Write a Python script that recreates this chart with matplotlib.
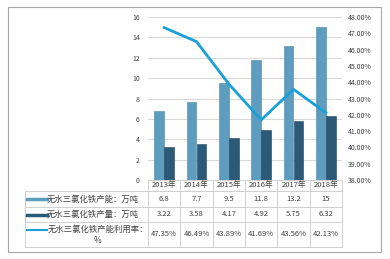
import matplotlib.pyplot as plt
import numpy as np

plt.rcParams['font.family'] = ['Noto Sans CJK SC', 'DejaVu Sans']

years = ['2013年', '2014年', '2015年', '2016年', '2017年', '2018年']
capacity = [6.8, 7.7, 9.5, 11.8, 13.2, 15]
output = [3.22, 3.58, 4.17, 4.92, 5.75, 6.32]
util_rate = [47.35, 46.49, 43.89, 41.69, 43.56, 42.13]

cap_labels = ['6.8', '7.7', '9.5', '11.8', '13.2', '15']
out_labels = ['3.22', '3.58', '4.17', '4.92', '5.75', '6.32']
rate_labels = ['47.35%', '46.49%', '43.89%', '41.69%', '43.56%', '42.13%']
row_names = ['无水三氯化铁产能：万吨', '无水三氯化铁产量：万吨', '无水三氯化铁产能利用率：\n%']

W, H = 390, 259
c_light = '#5f9dbf'
c_dark = '#2b5a78'
c_line = '#1aa0d8'
c_grid = '#d9d9d9'
c_text = '#404040'

fig = plt.figure(figsize=(W / 100, H / 100), dpi=100)


def fx(x):
    return x / W


def fy(y):
    return 1 - y / H


# outer frame
frame = plt.Rectangle((fx(8), fy(252)), fx(381 - 8), fy(7) - fy(252),
                      transform=fig.transFigure, fill=False, ec='#a6a6a6', lw=0.8)
fig.patches.append(frame)

x0, x1 = 148, 342
ax = fig.add_axes([fx(x0), fy(180), fx(x1 - x0), fy(17) - fy(180)])
x = np.arange(len(years))
bw = 0.3
ax.bar(x - bw / 2, capacity, bw, color=c_light, ec='#4a86a8', lw=0.4, zorder=2)
ax.bar(x + bw / 2, output, bw, color=c_dark, ec='#1f4660', lw=0.4, zorder=2)
ax.set_xlim(-0.5, len(years) - 0.5)
ax.set_ylim(0, 16)
ax.set_yticks(range(0, 17, 2))
ax.yaxis.grid(True, color=c_grid, lw=0.8, zorder=0)
ax.set_xticks([])
ax.tick_params(axis='y', length=0, labelsize=5, colors=c_text, pad=6)
for s in ax.spines.values():
    s.set_visible(False)

ax2 = ax.twinx()
ax2.plot(x, util_rate, color=c_line, lw=2, zorder=3)
ax2.set_ylim(38, 48)
ax2.set_yticks(range(38, 49))
ax2.set_yticklabels(['%.2f%%' % v for v in range(38, 49)])
ax2.tick_params(axis='y', length=0, labelsize=5, colors=c_text, pad=4)
for s in ax2.spines.values():
    s.set_visible(False)

# data table below the plot
col_w = (x1 - x0) / len(years)
rows_y = [180, 191, 207, 222, 247]
tline = dict(color='#d0d0d0', lw=0.7, transform=fig.transFigure)

for r in range(len(rows_y)):
    left = x0 if r == 0 else 25
    fig.add_artist(plt.Line2D([fx(left), fx(x1)], [fy(rows_y[r])] * 2, **tline))
for i in range(len(years) + 1):
    xx = x0 + i * col_w
    fig.add_artist(plt.Line2D([fx(xx)] * 2, [fy(180), fy(247)], **tline))
fig.add_artist(plt.Line2D([fx(25)] * 2, [fy(191), fy(247)], **tline))

for i, yr in enumerate(years):
    cx = fx(x0 + (i + 0.5) * col_w)
    fig.text(cx, fy((rows_y[0] + rows_y[1]) / 2), yr, ha='center', va='center',
             fontsize=5.5, color=c_text)
    for r, vals in enumerate([cap_labels, out_labels, rate_labels]):
        fig.text(cx, fy((rows_y[r + 1] + rows_y[r + 2]) / 2), vals[i],
                 ha='center', va='center', fontsize=5.5, color=c_text)

key_colors = [c_light, c_dark, c_line]
key_lw = [2.5, 2.5, 1.5]
for r in range(3):
    yc = (rows_y[r + 1] + rows_y[r + 2]) / 2
    ky = yc if r < 2 else yc - 5
    fig.add_artist(plt.Line2D([fx(27), fx(47)], [fy(ky)] * 2, color=key_colors[r],
                              lw=key_lw[r], transform=fig.transFigure))
    if r < 2:
        fig.text(fx(47), fy(yc), row_names[r], ha='left', va='center',
                 fontsize=6, color=c_text)
    else:
        fig.text(fx(98), fy(yc), row_names[r], ha='center', va='center',
                 fontsize=6, color=c_text, multialignment='center',
                 linespacing=1.3)

fig.savefig('out.png', dpi=100)
